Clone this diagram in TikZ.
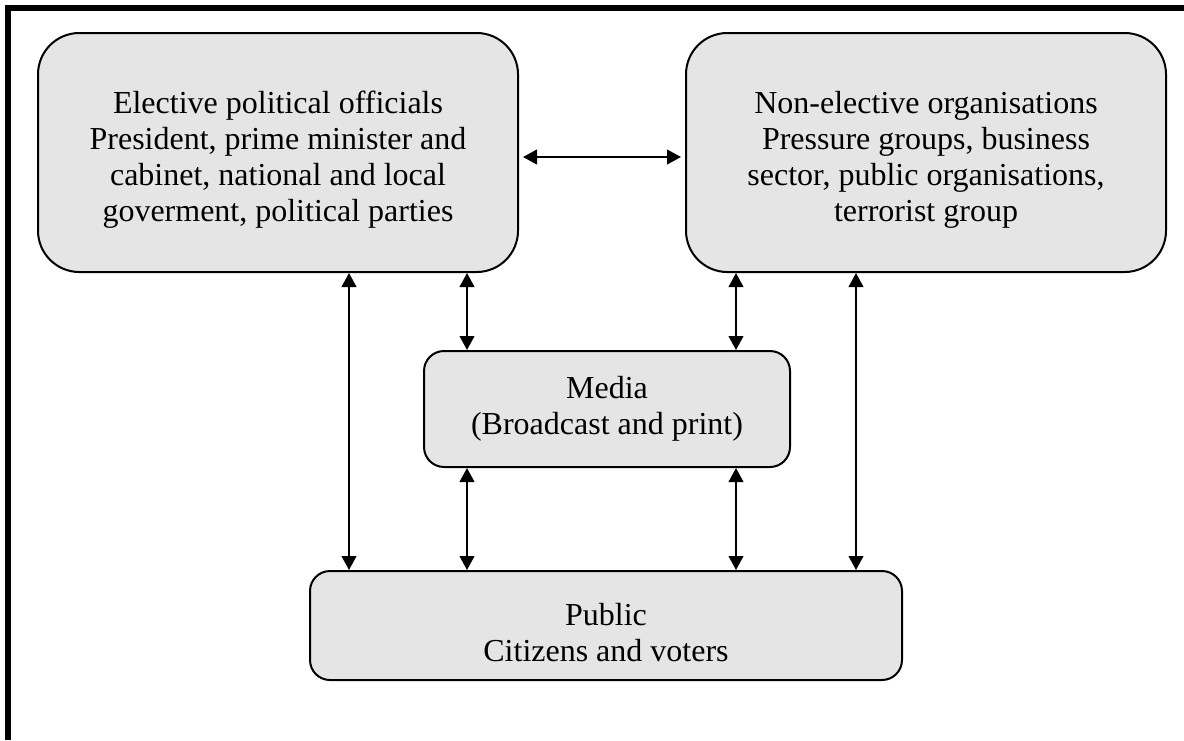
\documentclass[tikz,border=0pt]{standalone}
\usepackage{fontspec}
\setmainfont{Liberation Serif}
\usetikzlibrary{arrows.meta, positioning}

% puntal invisible para bajar un poco el texto
\newcommand{\bajar}{\rule{0pt}{27pt}}

\tikzset{
  caja/.style={draw, line width=1.5pt, fill=gray!20, align=center,
    font=\fontsize{24}{27}\selectfont, inner sep=0pt},
  cajagrande/.style={caja, minimum width=360pt, minimum height=179.25pt, rounded corners=31pt},
  cajachica/.style={caja, rounded corners=15pt},
  flecha/.style={{Triangle[length=10.5pt,width=11pt]}-{Triangle[length=10.5pt,width=11pt]}, line width=1.5pt},
}

\begin{document}
\begin{tikzpicture}[x=0.75pt,y=-0.75pt]
        \useasboundingbox (0,0) rectangle (1184,740);

        % Marco (solo arriba e izquierda)
        \draw[line width=4.5pt] (8,740) -- (8,8) -- (1184,8);

        % Cajas de actores politicos
        \node[cajagrande] (elect) at (278,152.5) {\bajar Elective political officials\\President, prime minister and\\cabinet, national and local\\goverment, political parties};
        \node[cajagrande] (nonel) at (926,152.5) {\bajar Non-elective organisations\\Pressure groups, business\\sector, public organisations,\\terrorist group};

        % Medios
        \node[cajachica, minimum width=274.5pt, minimum height=87pt] (media) at (607,409) {Media\\(Broadcast and print)};

        % Publico
        \node[cajachica, minimum width=444pt, minimum height=81.75pt] (public) at (606,625.5) {\bajar Public\\Citizens and voters};

        % Flecha entre actores
        \draw[flecha] ([xshift=3pt]elect.east |- 0,157) -- ([xshift=-3pt]nonel.west |- 0,157);

        % Flechas verticales
        \draw[flecha] (elect.south -| 349,0) -- (public.north -| 349,0);
        \draw[flecha] (elect.south -| 467,0) -- (media.north -| 467,0);
        \draw[flecha] (nonel.south -| 736,0) -- (media.north -| 736,0);
        \draw[flecha] (nonel.south -| 856,0) -- (public.north -| 856,0);
        \draw[flecha] (media.south -| 467,0) -- (public.north -| 467,0);
        \draw[flecha] (media.south -| 736,0) -- (public.north -| 736,0);
    \end{tikzpicture}
\end{document}
